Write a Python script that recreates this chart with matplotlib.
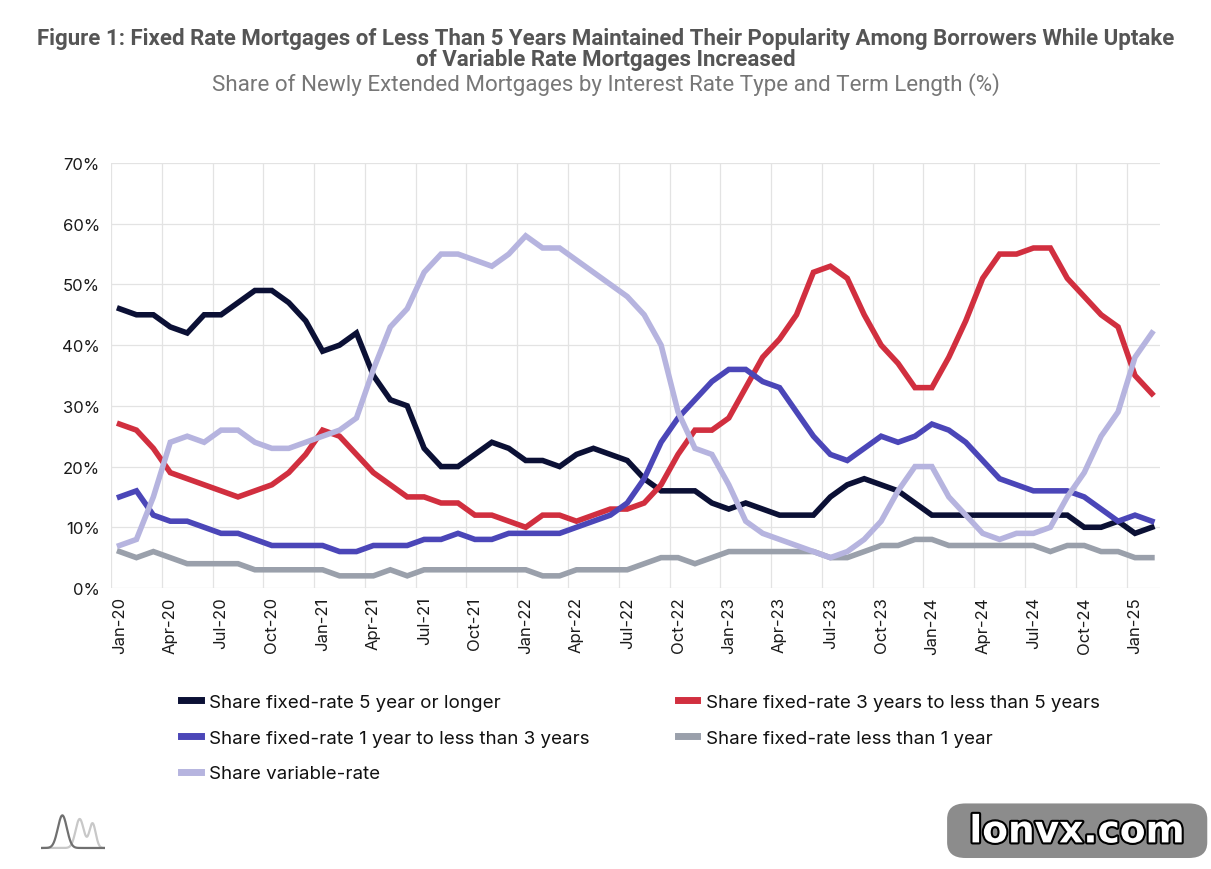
import matplotlib
matplotlib.use("Agg")
import matplotlib.pyplot as plt
import matplotlib.patheffects as pe
import numpy as np
from matplotlib.patches import FancyBboxPatch

plt.rcParams['font.family'] = ['Inter', 'DejaVu Sans']

months = ["Jan", "Feb", "Mar", "Apr", "May", "Jun", "Jul", "Aug", "Sep", "Oct", "Nov", "Dec"]
categories = [f"{m}-{y:02d}" for y in range(20, 26) for m in months][:62]

fixed_5y_plus = [46, 45, 45, 43, 42, 45, 45, 47, 49, 49, 47, 44, 39, 40, 42, 35,
                 31, 30, 23, 20, 20, 22, 24, 23, 21, 21, 20, 22, 23, 22, 21, 18,
                 16, 16, 16, 14, 13, 14, 13, 12, 12, 12, 15, 17, 18, 17, 16,
                 14, 12, 12, 12, 12, 12, 12, 12, 12, 12, 10, 10, 11, 9, 10]
fixed_3_5y = [27, 26, 23, 19, 18, 17, 16, 15, 16, 17, 19, 22, 26, 25, 22, 19,
              17, 15, 15, 14, 14, 12, 12, 11, 10, 12, 12, 11, 12, 13, 13, 14,
              17, 22, 26, 26, 28, 33, 38, 41, 45, 52, 53, 51, 45, 40, 37,
              33, 33, 38, 44, 51, 55, 55, 56, 56, 51, 48, 45, 43, 35, 32]
fixed_1_3y = [15, 16, 12, 11, 11, 10, 9, 9, 8, 7, 7, 7, 7, 6, 6, 7,
              7, 7, 8, 8, 9, 8, 8, 9, 9, 9, 9, 10, 11, 12, 14, 18,
              24, 28, 31, 34, 36, 36, 34, 33, 29, 25, 22, 21, 23, 25, 24,
              25, 27, 26, 24, 21, 18, 17, 16, 16, 16, 15, 13, 11, 12, 11]
fixed_lt_1y = [6, 5, 6, 5, 4, 4, 4, 4, 3, 3, 3, 3, 3, 2, 2, 2,
               3, 2, 3, 3, 3, 3, 3, 3, 3, 2, 2, 3, 3, 3, 3, 4,
               5, 5, 4, 5, 6, 6, 6, 6, 6, 6, 5, 5, 6, 7, 7,
               8, 8, 7, 7, 7, 7, 7, 7, 6, 7, 7, 6, 6, 5, 5]
variable = [7, 8, 15, 24, 25, 24, 26, 26, 24, 23, 23, 24, 25, 26, 28, 36,
            43, 46, 52, 55, 55, 54, 53, 55, 58, 56, 56, 54, 52, 50, 48, 45,
            40, 29, 23, 22, 17, 11, 9, 8, 7, 6, 5, 6, 8, 11, 16,
            20, 20, 15, 12, 9, 8, 9, 9, 10, 15, 19, 25, 29, 38, 42]

series = [
    ("Share fixed-rate 5 year or longer", fixed_5y_plus, "#0b1035"),
    ("Share fixed-rate 3 years to less than 5 years", fixed_3_5y, "#d12f3f"),
    ("Share fixed-rate 1 year to less than 3 years", fixed_1_3y, "#4b46b8"),
    ("Share fixed-rate less than 1 year", fixed_lt_1y, "#9aa0ab"),
    ("Share variable-rate", variable, "#b6b4df"),
]

fig = plt.figure(figsize=(12.11, 8.70), dpi=100)
ax = fig.add_axes([0.0917, 0.323, 0.8665, 0.4885])

x = np.arange(len(categories))
handles = []
for label, vals, color in series:
    h, = ax.plot(x, vals, color=color, lw=4.0, solid_joinstyle='miter', label=label)
    handles.append(h)

ax.set_xlim(-0.5, len(categories) - 0.5)
ax.set_ylim(0, 70)
ax.set_yticks(range(0, 71, 10))
ax.set_yticklabels([f"{v}%" for v in range(0, 71, 10)], fontsize=12, color="#1a1a1a")
tick_pos = list(range(0, len(categories), 3))
ax.set_xticks(tick_pos)
ax.set_xticklabels([categories[i] for i in tick_pos], rotation=90, fontsize=12, color="#1a1a1a")
ax.tick_params(axis='y', length=0, pad=8)
ax.tick_params(axis='x', length=0, pad=6)

for s in ax.spines.values():
    s.set_visible(False)
ax.set_axisbelow(True)
for v in range(0, 71, 10):
    ax.axhline(v, color="#e3e3e3", lw=0.9, zorder=0)
for b in np.arange(-0.5, len(categories) - 1, 3):
    ax.axvline(b, color="#e3e3e3", lw=0.9, zorder=0)

fig.text(0.5, 0.955, "Figure 1: Fixed Rate Mortgages of Less Than 5 Years Maintained Their Popularity Among Borrowers While Uptake",
         ha='center', va='center', fontsize=16, fontweight='bold', color="#555555", family=['Roboto'])
fig.text(0.5, 0.931, "of Variable Rate Mortgages Increased",
         ha='center', va='center', fontsize=16, fontweight='bold', color="#555555", family=['Roboto'])
fig.text(0.5, 0.903, "Share of Newly Extended Mortgages by Interest Rate Type and Term Length (%)",
         ha='center', va='center', fontsize=16.1, color="#777777", family=['Roboto'])

order = [0, 2, 4, 1, 3]
leg = fig.legend(handles=[handles[i] for i in order], labels=[series[i][0] for i in order],
                 loc='upper left', bbox_to_anchor=(0.1355, 0.221), ncol=2,
                 frameon=False, fontsize=13.5, handlelength=1.05, handletextpad=0.45,
                 columnspacing=4.7, labelspacing=1.0)
for line in leg.get_lines():
    line.set_linewidth(5)
for t in leg.get_texts():
    t.set_color("#111111")

# small logo bottom-left
lax = fig.add_axes([0.034, 0.02, 0.053, 0.05])
lx = np.linspace(0, 1, 200)
lax.plot(lx, 0.1 + 0.8 * np.exp(-((lx - 0.6) / 0.09) ** 2) + 0.8 * np.exp(-((lx - 0.8) / 0.07) ** 2) * 0.85,
         color="#c8c8c8", lw=1.6)
lax.plot(lx, 0.1 + 0.9 * np.exp(-((lx - 0.33) / 0.1) ** 2), color="#707070", lw=1.6)
lax.set_xlim(0, 1)
lax.set_ylim(0, 1.2)
lax.axis('off')

# watermark
wax = fig.add_axes([0.781, 0.012, 0.217, 0.064])
wax.set_xlim(0, 1)
wax.set_ylim(0, 1)
wax.axis('off')
wax.add_patch(FancyBboxPatch((0.005, 0.01), 0.99, 0.98, boxstyle="round,pad=0,rounding_size=0.07",
                             facecolor="#8c8c8c", edgecolor="none", mutation_aspect=4.0))
wax.text(0.5, 0.47, "lonvx.com", ha='center', va='center', fontsize=27, fontweight='bold',
         color="white", family=['DejaVu Sans'],
         path_effects=[pe.withStroke(linewidth=3, foreground="black")])

fig.savefig("out.png", dpi=100)
